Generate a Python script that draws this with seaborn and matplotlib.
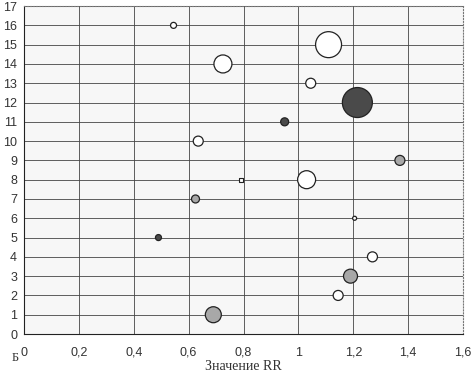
import matplotlib
matplotlib.use("Agg")
import matplotlib.pyplot as plt
import seaborn as sns
import pandas as pd

# data
rr = [0.69, 1.145, 1.19, 1.27, 0.49, 1.205, 0.625, 1.03, 1.37, 0.635, 0.95, 1.215, 1.045, 0.725, 1.11, 0.545]
study = [1, 2, 3, 4, 5, 6, 7, 8, 9, 10, 11, 12, 13, 14, 15, 16]
weight = [64, 25, 49, 25, 9, 4, 16, 81, 25, 25, 16, 225, 25, 81, 169, 9]
kind = ["gray", "open", "gray", "open", "dark", "open", "gray", "open", "gray", "open",
        "dark", "dark", "open", "open", "open", "open"]
extra_rr = [0.79]
extra_y = [8]

x_ticks = [0, 0.2, 0.4, 0.6, 0.8, 1, 1.2, 1.4, 1.6]
x_labels = ["0", "0,2", "0,4", "0,6", "0,8", "1", "1,2", "1,4", "1,6"]
y_ticks = list(range(0, 18))

df = pd.DataFrame({"rr": rr, "study": study, "weight": weight, "kind": kind})

sns.set_style("white")
plt.rcParams["font.family"] = ["Liberation Sans", "DejaVu Sans"]

fig = plt.figure(figsize=(4.71, 3.80), dpi=100)
ax = fig.add_axes([0.051, 0.121, 0.932, 0.863])
ax.set_facecolor("#f7f7f7")
fig.patch.set_facecolor("white")

ax.grid(True, color="#444444", linewidth=0.6)
ax.set_axisbelow(True)

sns.scatterplot(data=df, x="rr", y="study", size="weight", hue="kind",
                palette={"open": "white", "gray": "#a8a8a8", "dark": "#4a4a4a"},
                sizes=(8.3, 466), size_norm=(4, 225), edgecolor="#222222",
                linewidth=0.9, legend=False, ax=ax, zorder=3)
sns.scatterplot(x=extra_rr, y=extra_y, marker="s", s=10, color="white",
                edgecolor="#222222", linewidth=0.8, legend=False, ax=ax, zorder=3)

ax.set_xlim(0, 1.6)
ax.set_ylim(0, 17)
ax.set_xticks(x_ticks)
ax.set_xticklabels(x_labels)
ax.set_yticks(y_ticks)
ax.tick_params(axis="both", labelsize=9, colors="#333333", length=3, width=0.7)
ax.tick_params(axis="x", pad=6)
ax.tick_params(axis="y", pad=2)

for side in ["left", "bottom"]:
    ax.spines[side].set_color("#222222")
    ax.spines[side].set_linewidth(0.8)
for side in ["top", "right"]:
    ax.spines[side].set_color("#777777")
    ax.spines[side].set_linestyle(":")
    ax.spines[side].set_linewidth(0.8)

ax.set_ylabel("")
ax.set_xlabel("Значение RR", family=["Liberation Serif", "DejaVu Serif"],
              fontsize=10, color="#333333", labelpad=1)
fig.text(12 / 471, 1 - 358 / 380, "Б", family=["Liberation Serif", "DejaVu Serif"],
         fontsize=9, color="#333333", ha="left", va="center")

fig.savefig("out.png", dpi=100)
